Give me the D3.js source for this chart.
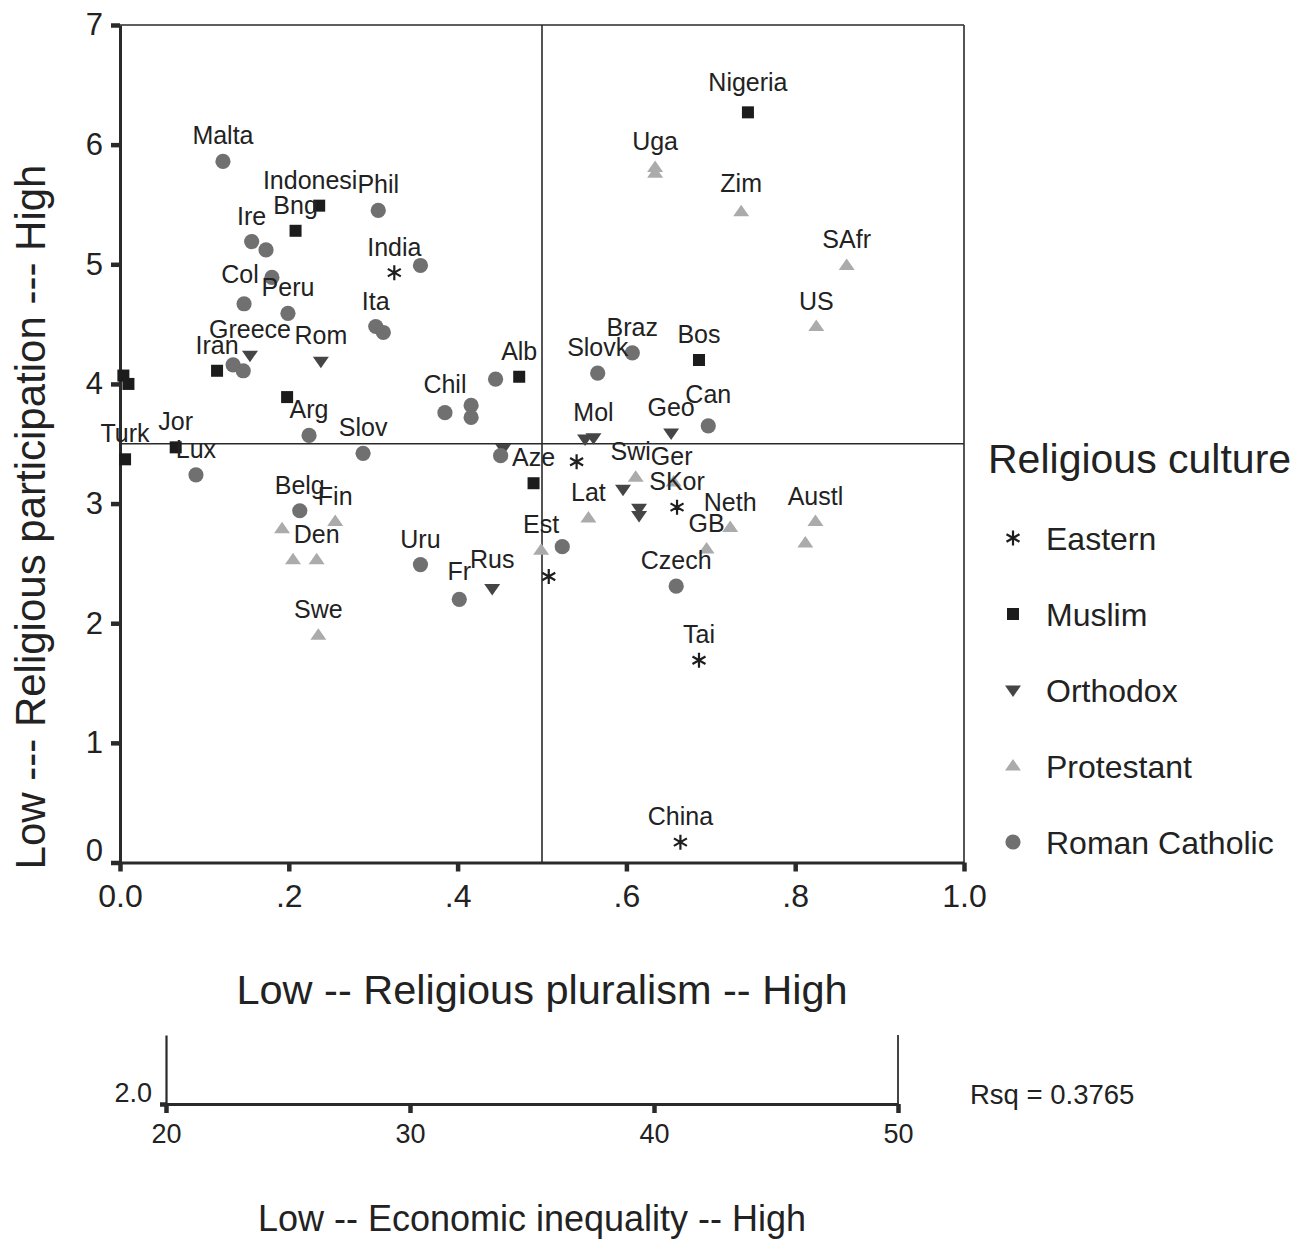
<!DOCTYPE html>
<html>
<head>
<meta charset="utf-8">
<script src="https://cdn.jsdelivr.net/npm/d3@7"></script>
<style>
  body { margin: 0; background: #fff; }
  svg { display: block; }
  text { font-family: "Liberation Sans", Arial, Helvetica, sans-serif; fill: #222; }
</style>
</head>
<body>
<svg id="chart" width="1296" height="1239"></svg>
<script>
// Religious cultures (legend order)
const cultures = ["Eastern", "Muslim", "Orthodox", "Protestant", "Roman Catholic"];

// Country labels ("" = unlabelled case)
const countries = [
  // Eastern
  "India", "", "SKor", "", "Tai", "China",
  // Muslim
  "Nigeria", "Indonesi", "Bng", "Iran", "Bos", "Alb", "", "", "", "Jor", "Turk", "Aze",
  // Orthodox
  "Greece", "Rom", "", "", "Mol", "Geo", "", "", "", "Rus",
  // Protestant
  "Uga", "", "Zim", "SAfr", "US", "Swi", "Ger", "Lat", "Neth", "Austl", "", "GB", "Est",
  "Fin", "", "Den", "", "Swe",
  // Roman Catholic
  "Malta", "Phil", "Ire", "", "", "Col", "Peru", "", "Ita", "", "", "", "", "Chil", "", "",
  "Braz", "Slovk", "Can", "Arg", "Slov", "", "Lux", "Belg", "", "Uru", "Fr", "Czech"
];

// Religious pluralism index (0 - 1)
const pluralism = [
  0.325, 0.541, 0.660, 0.508, 0.686, 0.664,
  0.744, 0.236, 0.208, 0.115, 0.686, 0.473, 0.004, 0.010, 0.198, 0.066, 0.006, 0.490,
  0.154, 0.238, 0.454, 0.551, 0.561, 0.653, 0.596, 0.615, 0.615, 0.441,
  0.634, 0.634, 0.736, 0.861, 0.825, 0.611, 0.656, 0.555, 0.723, 0.824, 0.812, 0.695, 0.499,
  0.255, 0.192, 0.233, 0.205, 0.235,
  0.122, 0.306, 0.156, 0.173, 0.180, 0.147, 0.199, 0.356, 0.303, 0.312, 0.134, 0.146, 0.445,
  0.385, 0.416, 0.416, 0.607, 0.566, 0.697, 0.224, 0.288, 0.451, 0.090, 0.213, 0.524, 0.356,
  0.402, 0.659
];

// Religious participation scale (0 - 7)
const participation = [
  4.93, 3.35, 2.97, 2.39, 1.69, 0.17,
  6.27, 5.49, 5.28, 4.11, 4.20, 4.06, 4.07, 4.00, 3.89, 3.47, 3.37, 3.17,
  4.24, 4.19, 3.46, 3.54, 3.55, 3.59, 3.12, 2.96, 2.90, 2.29,
  5.81, 5.76, 5.44, 4.99, 4.48, 3.22, 3.18, 2.88, 2.80, 2.85, 2.67, 2.62, 2.61,
  2.85, 2.79, 2.53, 2.53, 1.90,
  5.86, 5.45, 5.19, 5.12, 4.89, 4.67, 4.59, 4.99, 4.48, 4.43, 4.16, 4.11, 4.04,
  3.76, 3.82, 3.72, 4.26, 4.09, 3.65, 3.57, 3.42, 3.40, 3.24, 2.94, 2.64, 2.49,
  2.20, 2.31
];

// Culture of each case (index into cultures)
const cultureOf = [
  0, 0, 0, 0, 0, 0,
  1, 1, 1, 1, 1, 1, 1, 1, 1, 1, 1, 1,
  2, 2, 2, 2, 2, 2, 2, 2, 2, 2,
  3, 3, 3, 3, 3, 3, 3, 3, 3, 3, 3, 3, 3, 3, 3, 3, 3, 3,
  4, 4, 4, 4, 4, 4, 4, 4, 4, 4, 4, 4, 4, 4, 4, 4, 4, 4, 4, 4, 4, 4, 4, 4, 4, 4, 4, 4
];

// Axis ticks
const xTicks = [0, 0.2, 0.4, 0.6, 0.8, 1.0];
const xTickLabels = ["0.0", ".2", ".4", ".6", ".8", "1.0"];
const yTicks = [0, 1, 2, 3, 4, 5, 6, 7];
const ineqTicks = [20, 30, 40, 50];
const ineqYTicks = [2.0];
const rsq = 0.3765;

// ---------------------------------------------------------------
const svg = d3.select("#chart");
svg.append("rect").attr("width", 1296).attr("height", 1239).attr("fill", "#fff");

const x = d3.scaleLinear().domain([0, 1]).range([120, 964]);
const y = d3.scaleLinear().domain([0, 7]).range([862.5, 25]);

const ink = "#2a2a2a";

// frame (top and right) and reference lines at the midpoints
const g = svg.append("g");
g.append("line").attr("x1", x(0)).attr("x2", x(1)).attr("y1", y(7)).attr("y2", y(7))
  .attr("stroke", ink).attr("stroke-width", 1.6);
g.append("line").attr("x1", x(1)).attr("x2", x(1)).attr("y1", y(7)).attr("y2", y(0))
  .attr("stroke", ink).attr("stroke-width", 1.6);
g.append("line").attr("x1", x(0.5)).attr("x2", x(0.5)).attr("y1", y(7)).attr("y2", y(0))
  .attr("stroke", ink).attr("stroke-width", 1.6);
g.append("line").attr("x1", x(0)).attr("x2", x(1)).attr("y1", y(3.5)).attr("y2", y(3.5))
  .attr("stroke", ink).attr("stroke-width", 1.6);

function styleAxis(sel, fontSize) {
  sel.select(".domain").attr("stroke", ink).attr("stroke-width", 3);
  sel.selectAll(".tick line").attr("stroke", ink).attr("stroke-width", 4.5);
  sel.selectAll(".tick text").attr("fill", "#222")
    .style("font-size", fontSize + "px")
    .style("font-family", '"Liberation Sans", Arial, sans-serif');
}

// x axis: religious pluralism
const xAxis = svg.append("g").attr("transform", `translate(0,${y(0)})`)
  .call(d3.axisBottom(x).tickValues(xTicks).tickSize(9).tickSizeOuter(0).tickPadding(13)
    .tickFormat((d, i) => xTickLabels[i]));
styleAxis(xAxis, 32);

// y axis: religious participation
const yAxis = svg.append("g").attr("transform", `translate(${x(0)},0)`)
  .call(d3.axisLeft(y).tickValues(yTicks).tickSize(9).tickSizeOuter(0).tickPadding(8)
    .tickFormat(d3.format("d")));
styleAxis(yAxis, 31);
yAxis.selectAll(".tick text").filter(d => d === 0).attr("y", -12);

// symbols
const sym = {
  "Eastern": (s) => s.append("path")
      .attr("d", "M0,-7.5V7.5M-6.5,-3.75L6.5,3.75M-6.5,3.75L6.5,-3.75")
      .attr("stroke", "#1e1e1e").attr("stroke-width", 2.2).attr("fill", "none"),
  "Muslim": (s) => s.append("rect").attr("x", -6).attr("y", -6).attr("width", 12).attr("height", 12)
      .attr("fill", "#1c1c1c"),
  "Orthodox": (s) => s.append("path").attr("d", "M-8,-4.5L8,-4.5L0,7Z").attr("fill", "#454545"),
  "Protestant": (s) => s.append("path").attr("d", "M-8,4.5L8,4.5L0,-7Z").attr("fill", "#ababab"),
  "Roman Catholic": (s) => s.append("circle").attr("r", 7.6).attr("fill", "#707070")
};

const cases = countries.map((name, i) => ({
  name, px: pluralism[i], py: participation[i], culture: cultures[cultureOf[i]]
}));

const pts = svg.append("g");
cases.forEach(d => {
  const s = pts.append("g").attr("transform", `translate(${x(d.px)},${y(d.py)})`);
  sym[d.culture](s);
});

// case labels sit centred above their marker; a few are nudged
const nudge = { "Indonesi": [-9, 0], "Can": [0, -6], "Col": [-4, -4], "Chil": [0, -3],
  "Nigeria": [0, -4], "Zim": [0, -3], "Rus": [0, -4], "Fr": [0, -2], "Ger": [-2, 0],
  "Swi": [-5, 0] };
const labels = svg.append("g");
cases.filter(d => d.name).forEach(d => {
  const [dx, dy] = nudge[d.name] || [0, 0];
  labels.append("text")
    .attr("x", x(d.px) + dx).attr("y", y(d.py) - 17 + dy)
    .attr("text-anchor", "middle")
    .style("font-size", "25px")
    .text(d.name);
});

// axis titles
svg.append("text").attr("x", x(0.5)).attr("y", 1004).attr("text-anchor", "middle")
  .style("font-size", "41.5px").text("Low -- Religious pluralism -- High");
svg.append("text").attr("transform", "translate(45,517) rotate(-90)").attr("text-anchor", "middle")
  .style("font-size", "42px").text("Low --- Religious participation --- High");

// legend
const ly = d3.scalePoint().domain(cultures).range([538, 842]);
svg.append("text").attr("x", 988).attr("y", 473).style("font-size", "41px").text("Religious culture");
cultures.forEach(c => {
  const s = svg.append("g").attr("transform", `translate(1013,${ly(c)})`);
  sym[c](s);
  svg.append("text").attr("x", 1046).attr("y", ly(c)).attr("dy", "0.36em")
    .style("font-size", "32px").text(c);
});

// lower panel: economic inequality
const x2 = d3.scaleLinear().domain([20, 50]).range([166, 898]);
const y2 = d3.scaleLinear().domain([2.0, 2.3]).range([1104, 1035]);
svg.append("line").attr("x1", x2(50)).attr("x2", x2(50)).attr("y1", y2(2.3)).attr("y2", y2(2.0))
  .attr("stroke", "#444").attr("stroke-width", 2);
const x2Axis = svg.append("g").attr("transform", `translate(0,${y2(2.0)})`)
  .call(d3.axisBottom(x2).tickValues(ineqTicks).tickSize(9).tickSizeOuter(0).tickPadding(11)
    .tickFormat(d3.format("d")));
styleAxis(x2Axis, 27);
const y2Axis = svg.append("g").attr("transform", `translate(${x2(20)},0)`)
  .call(d3.axisLeft(y2).tickValues(ineqYTicks).tickSize(6).tickSizeOuter(0).tickPadding(8)
    .tickFormat(d3.format(".1f")));
styleAxis(y2Axis, 27);
y2Axis.select(".domain").attr("stroke-width", 2.2);
y2Axis.selectAll(".tick text").attr("y", -11);

svg.append("text").attr("x", 970).attr("y", 1104).style("font-size", "27.5px")
  .text("Rsq = " + rsq.toFixed(4));
svg.append("text").attr("x", 532).attr("y", 1231).attr("text-anchor", "middle")
  .style("font-size", "36px").text("Low -- Economic inequality -- High");
</script>
</body>
</html>
